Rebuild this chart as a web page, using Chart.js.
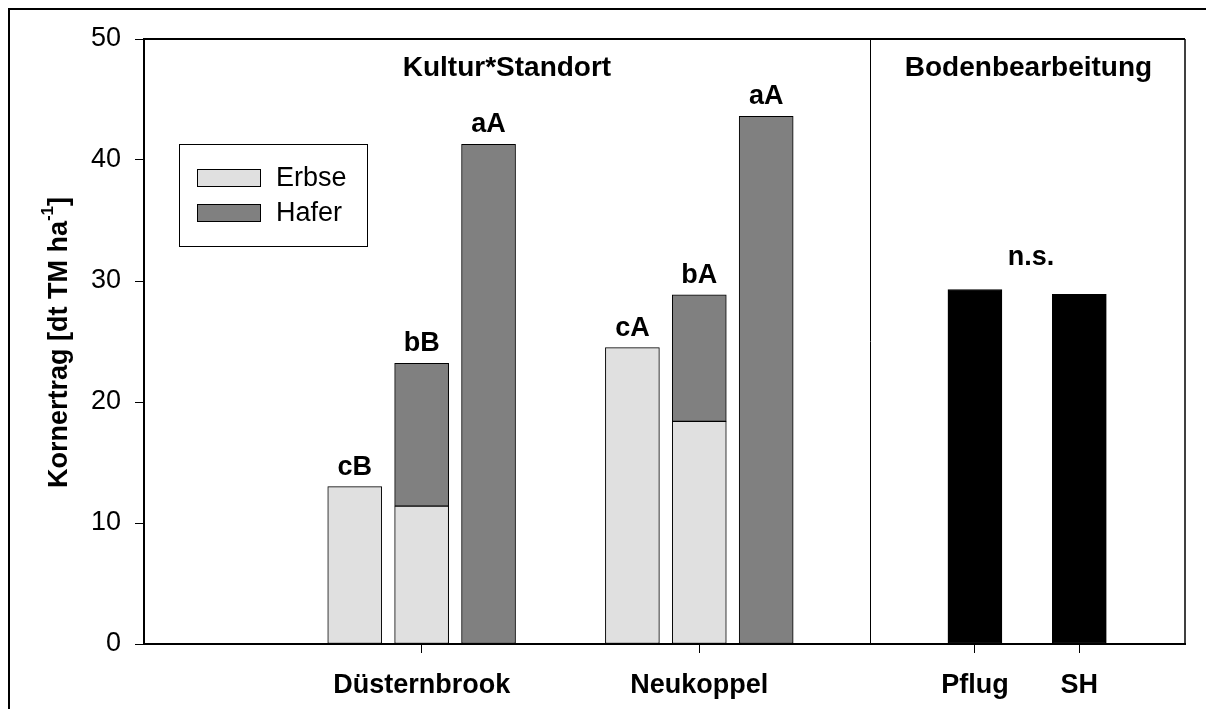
<!DOCTYPE html>
<html>
<head>
<meta charset="utf-8">
<script src="https://cdn.jsdelivr.net/npm/chart.js@4"></script>
<style>
body { margin: 0; background: #fff; }
#chart { display: block; }
</style>
</head>
<body>
<canvas id="chart" width="1206" height="709"></canvas>
<script>
// Kornertrag [dt TM/ha] - Erbse unten, Hafer oben gestapelt
const bars = ['D-Erbse', 'D-Gemenge', 'D-Hafer', 'N-Erbse', 'N-Gemenge', 'N-Hafer'];
const erbse = [13.0, 11.4, null, 24.5, 18.4, null];
const hafer = [null, 11.8, 41.3, null, 10.45, 43.6];
const letters = ['cB', 'bB', 'aA', 'cA', 'bA', 'aA'];

const bodenLabels = ['Pflug', 'SH'];
const boden = [29.3, 28.9];
const bodenLetter = 'n.s.';

const groupLabels = ['Düsternbrook', 'Neukoppel', 'Pflug', 'SH'];
const sectionTitles = ['Kultur*Standort', 'Bodenbearbeitung'];

// where things sit on the numeric x axis
const xBars = [3.15, 4.15, 5.15, 7.3, 8.3, 9.3];
const xBoden = [12.42, 13.98];
const xGroups = [4.15, 8.3, 12.42, 13.98];
const xDivider = 10.85;
const xMax = 15.56;

const FONT = "'Liberation Sans', Arial, sans-serif";

function pts(xs, ys) {
  const out = [];
  ys.forEach((v, i) => { if (v !== null) out.push({ x: xs[i], y: v }); });
  return out;
}

const deko = {
  id: 'deko',
  afterDatasetsDraw(chart) {
    const { ctx, chartArea: a, scales: { x, y } } = chart;
    ctx.save();
    ctx.fillStyle = '#000';
    ctx.textAlign = 'center';
    ctx.textBaseline = 'alphabetic';
    ctx.font = 'bold 27px ' + FONT;
    // letters above the bars
    letters.forEach((t, i) => {
      const top = y.getPixelForValue((erbse[i] || 0) + (hafer[i] || 0));
      ctx.fillText(t, x.getPixelForValue(xBars[i]), top - 12);
    });
    const bTop = y.getPixelForValue(Math.max(...boden));
    ctx.fillText(bodenLetter, (x.getPixelForValue(xBoden[0]) + x.getPixelForValue(xBoden[1])) / 2 + 4, bTop - 24);

    // section titles
    const xd = x.getPixelForValue(xDivider);
    ctx.font = 'bold 28px ' + FONT;
    ctx.fillText(sectionTitles[0], (a.left + xd) / 2, a.top + 37);
    ctx.fillText(sectionTitles[1], (xd + a.right) / 2 + 1, a.top + 37);

    // frame of the plot
    ctx.strokeStyle = '#000';
    ctx.lineWidth = 2;
    ctx.beginPath();
    ctx.moveTo(a.left - 1, a.top);
    ctx.lineTo(a.right, a.top);
    ctx.stroke();
    ctx.lineWidth = 1.5;
    ctx.beginPath();
    ctx.moveTo(a.right, a.top);
    ctx.lineTo(a.right, a.bottom);
    ctx.stroke();
    ctx.lineWidth = 1;
    ctx.beginPath();
    ctx.moveTo(Math.round(xd) + 0.5, a.top);
    ctx.lineTo(Math.round(xd) + 0.5, a.bottom);
    ctx.stroke();

    // legend
    const L = { x: 179, y: 144, w: 188, h: 102 };
    ctx.fillStyle = '#fff';
    ctx.fillRect(L.x, L.y, L.w, L.h);
    ctx.lineWidth = 1;
    ctx.strokeRect(L.x + 0.5, L.y + 0.5, L.w, L.h);
    ctx.font = '27px ' + FONT;
    ctx.textAlign = 'left';
    ctx.textBaseline = 'alphabetic';
    chart.data.datasets.slice(0, 2).forEach((ds, i) => {
      const sy = L.y + 25 + i * 35;
      ctx.fillStyle = ds.backgroundColor;
      ctx.fillRect(L.x + 18, sy, 63, 17);
      ctx.strokeRect(L.x + 18.5, sy + 0.5, 63, 17);
      ctx.fillStyle = '#000';
      ctx.fillText(ds.label, L.x + 97, sy + 17);
    });

    // y axis title with superscript
    ctx.translate(57, (a.top + a.bottom) / 2 + 1);
    ctx.rotate(-Math.PI / 2);
    const p1 = 'Kornertrag [dt TM ha', p2 = '-1', p3 = ']';
    ctx.font = 'bold 27px ' + FONT;
    const w1 = ctx.measureText(p1).width, w3 = ctx.measureText(p3).width;
    ctx.font = 'bold 17px ' + FONT;
    const w2 = ctx.measureText(p2).width;
    let sx = -(w1 + w2 + w3) / 2;
    ctx.textBaseline = 'alphabetic';
    ctx.font = 'bold 27px ' + FONT;
    ctx.fillText(p1, sx, 10); sx += w1;
    ctx.font = 'bold 17px ' + FONT;
    ctx.fillText(p2, sx, -4); sx += w2;
    ctx.font = 'bold 27px ' + FONT;
    ctx.fillText(p3, sx, 10);
    ctx.restore();

    // outer frame of the figure
    ctx.save();
    ctx.strokeStyle = '#000';
    ctx.lineWidth = 2;
    ctx.beginPath();
    ctx.moveTo(9, chart.height);
    ctx.lineTo(9, 9);
    ctx.lineTo(chart.width, 9);
    ctx.stroke();
    ctx.restore();
  }
};

new Chart(document.getElementById('chart'), {
  type: 'bar',
  data: {
    datasets: [
      { label: 'Erbse', data: pts(xBars, erbse), backgroundColor: '#e0e0e0' },
      { label: 'Hafer', data: pts(xBars, hafer), backgroundColor: '#808080' },
      { label: 'Bodenbearbeitung', data: pts(xBoden, boden), backgroundColor: '#000' }
    ]
  },
  options: {
    responsive: false,
    devicePixelRatio: 1,
    animation: false,
    layout: { padding: { top: 39, right: 21, left: 0, bottom: 0 } },
    datasets: {
      bar: { barThickness: 54, borderColor: '#000', borderWidth: 1, borderSkipped: false }
    },
    plugins: { legend: { display: false }, tooltip: { enabled: false } },
    scales: {
      x: {
        type: 'linear',
        stacked: true,
        offset: false,
        min: 0,
        max: xMax,
        afterFit: s => { s.height = 65; },
        afterBuildTicks: s => { s.ticks = xGroups.map(v => ({ value: v })); },
        grid: { offset: false, drawOnChartArea: false, tickLength: 9, color: '#000', tickWidth: 1 },
        border: { display: true, color: '#000', width: 2 },
        ticks: {
          color: '#000',
          padding: 16,
          maxRotation: 0,
          autoSkip: false,
          font: { family: FONT, size: 27, weight: 'bold' },
          callback: v => groupLabels[xGroups.indexOf(v)]
        }
      },
      y: {
        stacked: true,
        min: 0,
        max: 50,
        afterFit: s => { s.width = 144; },
        grid: { drawOnChartArea: false, tickLength: 9, color: '#000', tickWidth: 1 },
        border: { display: true, color: '#000', width: 2 },
        ticks: {
          stepSize: 10,
          color: '#000',
          padding: 14,
          font: { family: FONT, size: 27 }
        }
      }
    }
  },
  plugins: [deko]
});
</script>
</body>
</html>
